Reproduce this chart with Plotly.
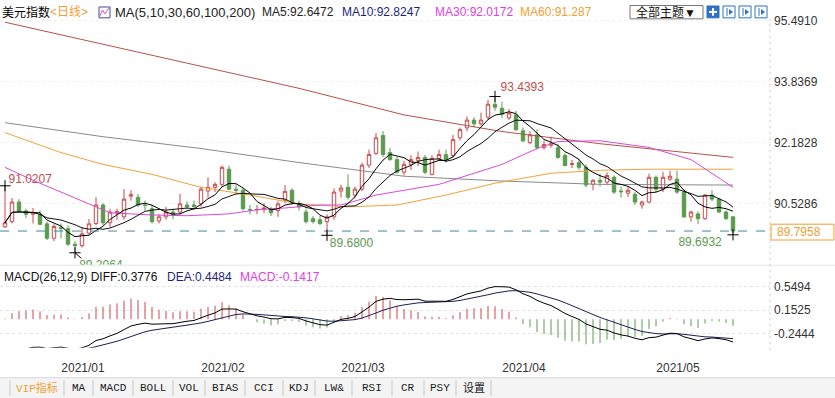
import plotly.graph_objects as go
import pandas as pd

W, H = 835, 398

# ---------------- data ----------------
dates = [d for d in pd.bdate_range("2020-12-21", "2021-05-18")
         if d.strftime("%m-%d") not in ("12-25", "01-01")]

open_ = [89.91, 90.05, 90.58, 90.34, 90.25, 90.24, 89.99, 89.60, 89.90, 89.86,
         89.44, 89.40, 89.74, 90.00, 90.50, 90.02, 90.28, 90.18, 90.74, 90.71,
         90.50, 90.40, 90.07, 90.18, 90.31, 90.31, 90.50, 90.50, 90.53, 90.88,
         90.98, 91.06, 91.47, 90.93, 90.90, 90.38, 90.37, 90.38, 90.40, 90.35,
         90.63, 90.90, 90.53, 90.31, 90.13, 90.10, 90.05, 90.18, 90.88, 90.98,
         90.77, 90.93, 91.58, 91.90, 92.38, 91.92, 91.73, 91.39, 91.60, 91.71,
         91.79, 91.33, 91.76, 91.87, 91.84, 92.32, 92.59, 92.80, 92.70, 92.88,
         93.23, 93.12, 92.86, 92.94, 92.51, 92.19, 92.40, 92.06, 92.12, 92.05,
         91.84, 91.60, 91.65, 91.52, 91.06, 91.17, 91.12, 91.25, 90.88, 90.82,
         90.79, 90.50, 90.58, 91.25, 90.93, 91.20, 91.20, 90.85, 90.18, 90.26,
         90.13, 90.77, 90.66, 90.31, 90.18]
high = [91.0207, 90.69, 90.66, 90.40, 90.42, 90.35, 90.05, 89.98, 90.00, 89.95,
        89.52, 89.90, 90.12, 90.71, 90.55, 90.40, 90.40, 90.93, 90.90, 90.80,
        90.62, 90.50, 90.25, 90.45, 90.40, 90.80, 90.60, 90.62, 91.00, 91.25,
        91.12, 91.57, 91.57, 91.05, 90.95, 90.50, 90.50, 90.55, 90.45, 90.60,
        91.04, 90.95, 90.62, 90.40, 90.20, 90.20, 90.25, 90.95, 91.05, 91.33,
        91.00, 91.65, 92.00, 92.45, 92.50, 92.05, 91.80, 91.70, 91.85, 91.95,
        91.85, 91.85, 92.00, 92.00, 92.40, 92.60, 92.90, 92.88, 93.00, 93.35,
        93.4393, 93.30, 93.10, 93.05, 92.60, 92.50, 92.55, 92.25, 92.35, 92.15,
        91.90, 91.72, 91.75, 91.60, 91.20, 91.35, 91.38, 91.30, 91.00, 91.00,
        90.85, 90.62, 91.35, 91.30, 91.40, 91.43, 91.43, 90.92, 90.35, 90.33,
        90.80, 90.90, 90.70, 90.35, 90.20]
low = [89.88, 90.00, 90.30, 90.15, 90.00, 89.95, 89.55, 89.52, 89.60, 89.40,
       89.2064, 89.35, 89.70, 89.95, 89.95, 89.90, 90.10, 90.10, 90.62, 90.45,
       90.35, 90.00, 90.00, 90.10, 90.12, 90.25, 90.38, 90.40, 90.45, 90.70,
       90.85, 91.00, 90.90, 90.80, 90.35, 90.25, 90.25, 90.28, 90.20, 90.18,
       90.55, 90.50, 90.35, 90.00, 90.00, 89.95, 89.6800, 90.10, 90.70, 90.65,
       90.68, 90.88, 91.50, 91.85, 91.80, 91.70, 91.35, 91.30, 91.45, 91.55,
       91.33, 91.30, 91.70, 91.65, 91.78, 92.25, 92.50, 92.60, 92.65, 92.80,
       93.05, 92.85, 92.80, 92.50, 92.20, 92.15, 92.00, 92.00, 92.05, 91.75,
       91.55, 91.50, 91.45, 90.98, 90.90, 91.00, 91.05, 90.80, 90.70, 90.72,
       90.50, 90.40, 90.55, 90.85, 90.85, 91.15, 90.80, 90.15, 90.05, 89.98,
       90.10, 90.60, 90.28, 90.10, 89.6932]
close = [90.02, 90.58, 90.34, 90.25, 90.30, 89.98, 89.60, 89.92, 89.86, 89.44,
         89.40, 89.72, 89.99, 90.50, 90.02, 90.31, 90.32, 90.66, 90.78, 90.50,
         90.49, 90.05, 90.18, 90.31, 90.23, 90.53, 90.45, 90.46, 90.93, 90.98,
         91.06, 91.52, 90.93, 90.90, 90.40, 90.37, 90.38, 90.42, 90.29, 90.53,
         90.87, 90.58, 90.45, 90.05, 90.05, 90.00, 90.18, 90.85, 90.96, 90.71,
         90.93, 91.58, 91.87, 92.32, 91.87, 91.73, 91.39, 91.60, 91.73, 91.79,
         91.39, 91.76, 91.87, 91.73, 92.27, 92.54, 92.80, 92.70, 92.80, 93.23,
         93.15, 92.96, 92.99, 92.54, 92.24, 92.40, 92.06, 92.14, 92.16, 91.79,
         91.57, 91.62, 91.52, 91.04, 91.17, 91.12, 91.30, 90.85, 90.86, 90.90,
         90.58, 90.58, 91.25, 90.93, 91.25, 91.28, 90.85, 90.18, 90.31, 90.13,
         90.77, 90.66, 90.31, 90.13, 89.7958]

# long moving averages (candle index -> value)
ma30_idx = [0, 4, 8, 12, 15, 21, 26, 32, 36, 40, 45, 48, 53, 62, 67, 71, 76, 79, 85, 92, 98, 104]
ma30_val = [91.52, 91.17, 90.85, 90.53, 90.29, 90.23, 90.21, 90.26, 90.37, 90.42, 90.50,
            90.50, 90.77, 91.06, 91.36, 91.60, 92.03, 92.22, 92.24, 92.06, 91.73, 90.98]
ma60_idx = [0, 8, 14, 21, 28, 35, 42, 49, 56, 63, 70, 78, 85, 92, 99, 104]
ma60_val = [92.46, 91.92, 91.60, 91.33, 90.98, 90.77, 90.53, 90.45, 90.50, 90.77, 91.09,
            91.36, 91.44, 91.47, 91.47, 91.47]
ma100_idx = [0, 14, 28, 42, 57, 71, 85, 99, 104]
ma100_val = [92.73, 92.35, 92.03, 91.65, 91.28, 91.15, 91.06, 91.04, 91.04]
ma200_idx = [0, 14, 28, 42, 57, 71, 85, 99, 104]
ma200_val = [95.45, 94.85, 94.25, 93.66, 92.94, 92.49, 92.16, 91.90, 91.79]

# MACD initial EMA state (before first candle)
ema12_start, ema26_start, dea_start = 90.50, 91.12, -0.62

price_ticks = [95.4910, 93.8369, 92.1828, 90.5286]
macd_ticks = [0.5494, 0.1525, -0.2444]
last_price = 89.7958

header_parts = [("美元指数", 0, "#000000", 12), ("<日线>", 48, "#f0a030", 12),
                ("MA(5,10,30,60,100,200)", 113, "#222222", 13),
                ("MA5:92.6472", 260, "#222222", 12),
                ("MA10:92.8247", 340, "#1b1f7a", 12), ("MA30:92.0172", 433, "#e040e0", 12),
                ("MA60:91.287", 518, "#f0a030", 12)]
macd_header = [("MACD(26,12,9) DIFF:0.3776", 2, "#111111"), ("DEA:0.4484", 165, "#1b1f7a"),
               ("MACD:-0.1417", 238, "#e040e0")]
tabs = ["VIP指标", "MA", "MACD", "BOLL", "VOL", "BIAS", "CCI", "KDJ", "LW&", "RSI", "CR", "PSY", "设置"]
tab_seps = [10, 64, 93, 133, 173, 205, 245, 283, 315, 352, 392, 424, 456, 491]

# ---------------- derived ----------------
n = len(close)
idx = list(range(n))
cs = pd.Series(close)
ma5 = cs.rolling(5, min_periods=1).mean()
ma10 = cs.rolling(10, min_periods=1).mean()

e12, e26, dea = ema12_start, ema26_start, dea_start
diff_l, dea_l, hist_l = [], [], []
for c in close:
    e12 = e12 + 2 / 13 * (c - e12)
    e26 = e26 + 2 / 27 * (c - e26)
    d = e12 - e26
    dea = dea + 2 / 10 * (d - dea)
    diff_l.append(d)
    dea_l.append(dea)
    hist_l.append(2 * (d - dea))

RED = "#c8494a"
GREEN = "#5b9a4f"

PLOT_R = 770
XD = PLOT_R / W
px_per_i = 7.0
x0_px = 5.0
xr = [(0 - x0_px) / px_per_i, (PLOT_R - x0_px) / px_per_i]

def py(p):
    return 1 - p / H

P_TOP, P_BOT = 14, 263
ppu = 37.4
yr = [90.5286 - (P_BOT - 201.5) / ppu, 90.5286 + (201.5 - P_TOP) / ppu]
M_TOP, M_BOT = 277, 347
mpu = 60.5
myr = [0.1525 - (M_BOT - 309) / mpu, 0.1525 + (309 - M_TOP) / mpu]

FONT = "Liberation Sans, Arial, Noto Sans CJK SC, sans-serif"

fig = go.Figure()

for mi, mv, col in [(ma200_idx, ma200_val, "#b5524a"), (ma100_idx, ma100_val, "#8a8a8a"),
                    (ma60_idx, ma60_val, "#f0a23a"), (ma30_idx, ma30_val, "#d84ad8")]:
    fig.add_trace(go.Scatter(x=mi, y=mv, mode="lines", line=dict(color=col, width=1),
                             xaxis="x", yaxis="y", hoverinfo="skip"))

fig.add_trace(go.Candlestick(
    x=idx, open=open_, high=high, low=low, close=close,
    increasing=dict(line=dict(color=RED, width=1), fillcolor="white"),
    decreasing=dict(line=dict(color=GREEN, width=1), fillcolor=GREEN),
    whiskerwidth=0, xaxis="x", yaxis="y"))

fig.add_trace(go.Scatter(x=idx, y=ma10, mode="lines", line=dict(color="#111111", width=1),
                         xaxis="x", yaxis="y"))
fig.add_trace(go.Scatter(x=idx, y=ma5, mode="lines", line=dict(color="#000000", width=1),
                         xaxis="x", yaxis="y"))

fig.add_trace(go.Scatter(x=xr, y=[last_price, last_price], mode="lines",
                         line=dict(color="#3f8aa8", width=1, dash="dash"),
                         xaxis="x", yaxis="y", hoverinfo="skip"))

# extreme markers and labels
i_hi0 = 0
i_lo1 = low.index(min(low))
i_lo2 = 46
i_hi = high.index(max(high))
i_lo3 = n - 1
ext = [(i_hi0, high[i_hi0], "#c0504d", 0.5, 0.17),
       (i_lo1, low[i_lo1], "#5b9a4f", 0.6, -0.36),
       (i_lo2, low[i_lo2], "#5b9a4f", 0.4, -0.23),
       (i_hi, high[i_hi], "#c0504d", 0.8, 0.22),
       (i_lo3, low[i_lo3], "#5b9a4f", -7.8, -0.23)]
fig.add_trace(go.Scatter(x=[e[0] for e in ext], y=[e[1] for e in ext], mode="markers",
                         marker=dict(symbol="cross-thin", size=8,
                                     line=dict(color="#000000", width=1)),
                         xaxis="x", yaxis="y", hoverinfo="skip"))
fig.add_trace(go.Scatter(x=[i_lo1, i_lo1 + 0.9], y=[low[i_lo1], low[i_lo1] - 0.15], mode="lines",
                         line=dict(color="#000000", width=1), xaxis="x", yaxis="y"))
for e in ext:
    fig.add_trace(go.Scatter(x=[e[0] + e[3]], y=[e[1] + e[4]], mode="text",
                             text=[f"{e[1]:.4f}"], textposition="middle right",
                             textfont=dict(color=e[2], size=12, family=FONT),
                             cliponaxis=True, xaxis="x", yaxis="y"))

# MACD histogram as thin vertical sticks
for sign, col in ((1, RED), (-1, GREEN)):
    hx, hy = [], []
    for i, v in enumerate(hist_l):
        if (v >= 0) == (sign > 0):
            hx += [i, i, None]
            hy += [0, v, None]
    fig.add_trace(go.Scatter(x=hx, y=hy, mode="lines", line=dict(color=col, width=1),
                             xaxis="x2", yaxis="y2", hoverinfo="skip"))
fig.add_trace(go.Scatter(x=idx, y=dea_l, mode="lines", line=dict(color="#1b1f5a", width=1),
                         xaxis="x2", yaxis="y2"))
fig.add_trace(go.Scatter(x=idx, y=diff_l, mode="lines", line=dict(color="#000000", width=1),
                         xaxis="x2", yaxis="y2"))

month_ticks = [i for i in range(1, n) if dates[i].month != dates[i - 1].month]
month_text = [dates[i].strftime("%Y/%m") for i in month_ticks]

fig.update_layout(
    width=W, height=H, margin=dict(l=0, r=0, t=0, b=0),
    paper_bgcolor="white", plot_bgcolor="white", showlegend=False,
    xaxis=dict(domain=[0, XD], range=xr, showticklabels=False, showgrid=False,
               zeroline=False, rangeslider=dict(visible=False), anchor="y", fixedrange=True),
    yaxis=dict(domain=[py(P_BOT), py(P_TOP)], range=yr, side="right", anchor="x",
               tickvals=price_ticks, ticktext=[f"{v:.4f}" for v in price_ticks],
               ticks="", ticklabelstandoff=3, showgrid=True, gridcolor="#f0f0f0",
               griddash="dot", zeroline=False,
               tickfont=dict(size=12, color="#333333", family=FONT)),
    xaxis2=dict(domain=[0, XD], range=xr, anchor="y2", showgrid=False, zeroline=False,
                tickvals=month_ticks, ticktext=month_text, ticks="",
                ticklabelshift=22, ticklabelstandoff=11,
                tickfont=dict(size=12, color="#333333", family=FONT)),
    yaxis2=dict(domain=[py(M_BOT), py(M_TOP)], range=myr, side="right", anchor="x2",
                tickvals=macd_ticks, ticktext=[f"{v:.4f}" for v in macd_ticks],
                ticks="", ticklabelstandoff=3, showgrid=True, gridcolor="#e4e4e4",
                griddash="dot", zeroline=False,
                tickfont=dict(size=12, color="#333333", family=FONT)),
)

shapes = []
shapes.append(dict(type="line", xref="paper", yref="paper", x0=0, x1=1, y0=py(263.5), y1=py(263.5),
                   line=dict(color="#e6e6e6", width=1)))
shapes.append(dict(type="line", xref="paper", yref="paper", x0=XD, x1=XD, y0=py(350), y1=py(14),
                   line=dict(color="#d0d0d0", width=1, dash="dot")))
shapes.append(dict(type="rect", xref="paper", yref="paper", x0=0, x1=1, y0=py(398), y1=py(377),
                   fillcolor="#f4f4f4", line=dict(width=0), layer="below"))
shapes.append(dict(type="line", xref="paper", yref="paper", x0=0, x1=1, y0=py(377.5), y1=py(377.5),
                   line=dict(color="#d8d8d8", width=1)))
for s in tab_seps:
    shapes.append(dict(type="line", xref="paper", yref="paper", x0=s / W, x1=s / W,
                       y0=py(396), y1=py(380), line=dict(color="#c8c8c8", width=1)))
shapes.append(dict(type="rect", xref="paper", yref="paper", x0=771 / W, x1=834 / W,
                   y0=py(238), y1=py(222), fillcolor="white", line=dict(color="#f0a030", width=1)))
shapes.append(dict(type="rect", xref="paper", yref="paper", x0=630 / W, x1=703 / W,
                   y0=py(14), y1=py(0.5), fillcolor="white", line=dict(color="#777777", width=1)))
shapes.append(dict(type="rect", xref="paper", yref="paper", x0=707 / W, x1=719 / W,
                   y0=py(13), y1=py(1), fillcolor="#2d72c4", line=dict(color="#2d72c4", width=1)))
for bx in (723, 739, 755):
    shapes.append(dict(type="rect", xref="paper", yref="paper", x0=bx / W, x1=(bx + 12) / W,
                       y0=py(13), y1=py(1), fillcolor="white", line=dict(color="#2d72c4", width=1)))
    shapes.append(dict(type="line", xref="paper", yref="paper", x0=(bx + 4) / W, x1=(bx + 4) / W,
                       y0=py(11), y1=py(3), line=dict(color="#2d72c4", width=1)))
    shapes.append(dict(type="path", xref="paper", yref="paper",
                       path=f"M {(bx + 6) / W},{py(4)} L {(bx + 10) / W},{py(7)} L {(bx + 6) / W},{py(10)} Z",
                       fillcolor="#2d72c4", line=dict(width=0)))
shapes.append(dict(type="line", xref="paper", yref="paper", x0=709 / W, x1=717 / W, y0=py(7), y1=py(7),
                   line=dict(color="white", width=2)))
shapes.append(dict(type="line", xref="paper", yref="paper", x0=713 / W, x1=713 / W, y0=py(3), y1=py(11),
                   line=dict(color="white", width=2)))
shapes.append(dict(type="rect", xref="paper", yref="paper", x0=99 / W, x1=110 / W, y0=py(13), y1=py(2),
                   fillcolor="white", line=dict(color="#4a4a9a", width=1)))
shapes.append(dict(type="path", xref="paper", yref="paper",
                   path=f"M {100 / W},{py(11)} L {102.5 / W},{py(5)} L {105 / W},{py(9)} L {109 / W},{py(3)}",
                   line=dict(color="#d84ad8", width=1)))
fig.update_layout(shapes=shapes)

ann = []
for t, x, c, fs in header_parts:
    ann.append(dict(text=t, x=x / W, y=py(7.5), xref="paper", yref="paper", xanchor="left",
                    yanchor="middle", showarrow=False, font=dict(size=fs, color=c, family=FONT)))
ann.append(dict(text="全部主题▼", x=666 / W, y=py(7.5), xref="paper", yref="paper", xanchor="center",
                yanchor="middle", showarrow=False, font=dict(size=12, color="#111111", family=FONT)))
for t, x, c in macd_header:
    ann.append(dict(text=t, x=x / W, y=py(275), xref="paper", yref="paper", xanchor="left",
                    yanchor="middle", showarrow=False, font=dict(size=12, color=c, family=FONT)))
ann.append(dict(text=f"{last_price:.4f}", x=775 / W, y=py(230), xref="paper", yref="paper",
                xanchor="left", yanchor="middle", showarrow=False,
                font=dict(size=12, color="#f0a030", family=FONT)))
TABFONT = "Liberation Mono, Noto Sans CJK SC, monospace"
for k, t in enumerate(tabs):
    cx = (tab_seps[k] + tab_seps[k + 1]) / 2
    ann.append(dict(text=t, x=cx / W, y=py(388), xref="paper", yref="paper", xanchor="center",
                    yanchor="middle", showarrow=False,
                    font=dict(size=11, color="#f0a030" if k == 0 else "#222222", family=TABFONT)))
fig.update_layout(annotations=ann)

fig.write_html("out.html", config={"displayModeBar": False},
               post_script="document.body.style.margin='0px';")
